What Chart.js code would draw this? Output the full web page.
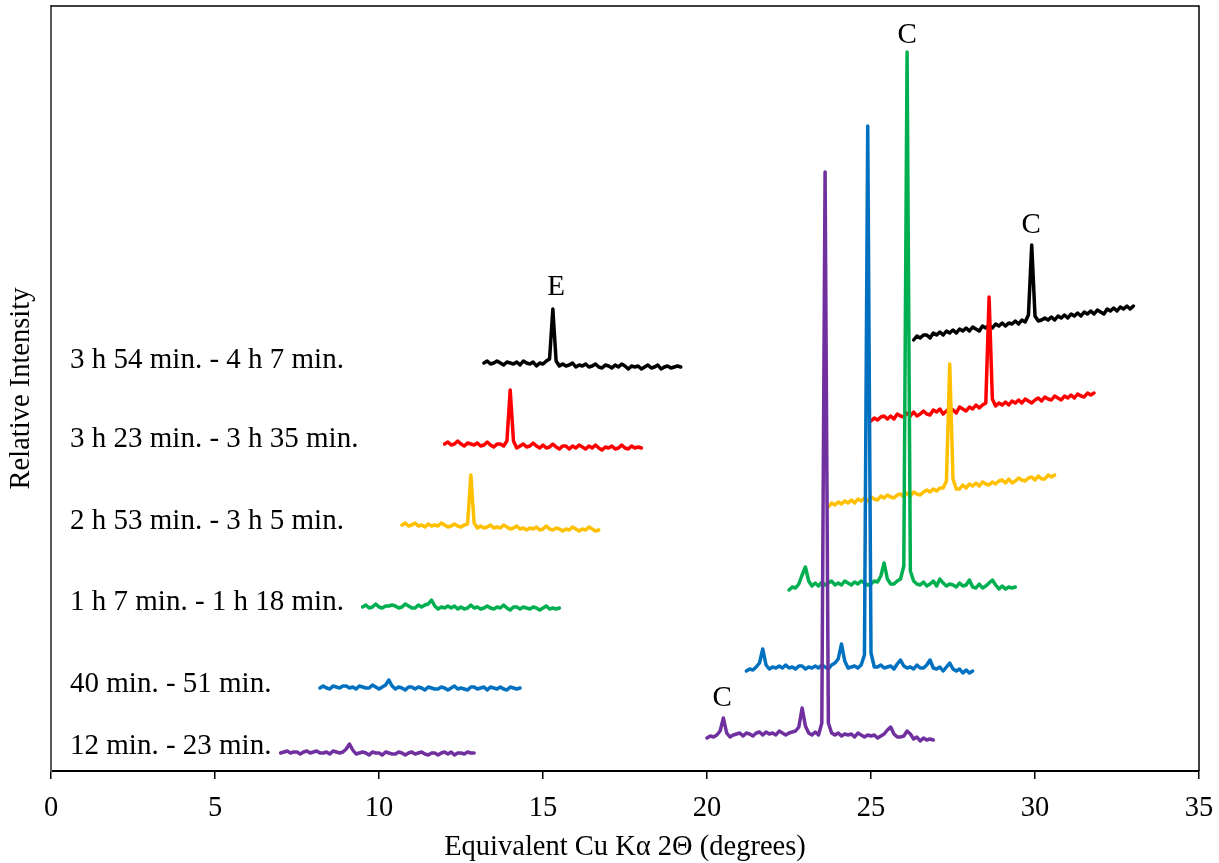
<!DOCTYPE html>
<html>
<head>
<meta charset="utf-8">
<script src="https://cdn.jsdelivr.net/npm/chart.js"></script>
<style>
  body { margin: 0; background: #fff; }
  #wrap { width: 1219px; height: 863px; }
</style>
</head>
<body>
<div id="wrap"><canvas id="xrdChart"></canvas></div>
<script>
// scan step (degrees 2theta) and where each segment starts
const STEP = 0.1;
const lowStart  = [7.0, 8.2, 9.5, 10.7, 12.0, 13.2];
const highStart = [20.0, 21.2, 22.5, 23.7, 25.0, 26.3];

const sampleLabels = ['12 min. - 23 min.', '40 min. - 51 min.', '1 h 7 min. - 1 h 18 min.',
                      '2 h 53 min. - 3 h 5 min.', '3 h 23 min. - 3 h 35 min.', '3 h 54 min. - 4 h 7 min.'];
const labelX = 0.58;
const labelY = [25, 87, 169, 250, 332, 411];

const peakLetters = ['C', 'C', 'E', 'C'];
const peakX = [26.1, 29.88, 15.4, 20.46];
const peakY = [736, 546, 484, 73];

// relative intensity, one value every STEP, 10 per row
const purpleLow = [
  18,19,20,18,19,19,17,19,20,18,
  19,20,18,18,19,17,20,19,18,19,
  22,27,21,17,18,19,18,16,19,18,
  18,16,19,18,17,17,19,18,16,18,
  19,17,18,19,17,16,18,18,16,18,
  19,17,19,16,18,18,17,19,18,18
];
const purpleHigh = [
  33,35,34,36,40,53,38,34,36,37,
  38,35,38,37,35,38,39,36,39,37,
  38,36,40,38,36,38,39,40,44,63,
  45,38,36,39,36,48,599,48,38,36,
  38,35,37,36,37,34,38,36,34,36,
  35,36,33,35,37,41,44,37,34,34,
  35,40,37,32,34,30,33,31,32,31
];
const blueLow = [
  83,85,83,82,85,84,83,85,85,83,
  84,82,85,84,83,83,86,84,82,84,
  86,91,85,82,84,83,81,84,84,82,
  84,83,81,84,83,82,82,84,83,81,
  83,85,82,83,82,81,84,84,82,83,
  84,81,84,83,82,84,82,81,84,83,
  82,83
];
const blueHigh = [
  100,102,101,104,108,122,106,102,104,103,
  105,103,106,103,104,102,105,105,102,104,
  103,105,103,106,104,102,106,108,112,127,
  110,103,104,105,103,106,116,645,118,104,
  104,106,103,104,105,102,107,111,105,103,
  104,102,106,103,103,106,111,103,102,104,
  100,104,108,102,100,102,98,101,98,100
];
const greenLow = [
  164,166,163,164,167,164,163,165,165,166,
  165,163,164,167,165,163,163,166,164,166,
  167,171,165,162,164,163,165,163,165,162,
  164,162,163,166,163,164,162,163,165,163,
  162,164,163,166,163,161,164,164,162,164,
  163,162,164,163,161,163,165,162,163,162,
  163
];
const greenHigh = [
  181,184,183,187,196,204,190,185,188,185,
  189,186,188,190,186,188,186,190,188,186,
  189,187,190,188,186,187,190,189,195,208,
  192,187,187,190,192,205,719,200,190,187,
  186,189,185,187,190,185,192,188,185,187,
  186,184,188,185,186,191,184,183,187,183,
  185,188,191,186,182,185,182,184,183,184
];
const yellowLow = [
  246,248,245,246,248,245,246,244,247,245,
  246,245,248,246,244,245,247,245,244,246,
  247,296,248,243,245,243,244,246,243,244,
  243,246,244,242,243,245,242,243,241,243,
  242,244,241,242,245,242,241,243,242,240,
  242,241,244,242,240,242,241,244,242,240,
  241
];
const yellowHigh = [
  264,268,266,269,267,270,268,271,268,272,
  270,273,270,274,272,271,275,273,276,274,
  273,276,277,274,278,275,279,277,276,279,
  281,279,282,280,283,283,290,407,292,282,
  282,286,283,287,285,288,285,289,287,286,
  289,287,290,291,288,292,288,290,293,291,
  290,293,294,291,295,292,292,296,294,296
];
const redLow = [
  327,329,326,327,330,327,325,328,327,326,
  328,325,326,329,326,324,327,327,325,330,
  381,330,323,325,327,324,325,328,325,323,
  326,323,324,327,324,322,325,325,322,325,
  323,326,324,322,325,323,326,323,321,324,
  323,325,322,323,326,323,322,325,323,324,
  323
];
const redHigh = [
  350,353,351,354,355,352,355,352,357,355,
  354,358,355,359,355,357,360,357,356,361,
  359,362,357,360,363,361,358,364,362,360,
  364,362,366,363,366,368,474,372,365,368,
  366,369,366,370,368,371,368,372,370,368,
  371,373,370,374,372,371,375,373,371,375,
  373,376,373,377,375,374,378,376,378
];
const blackLow = [
  408,410,407,408,410,408,406,409,408,407,
  409,406,410,408,407,409,405,408,407,410,
  412,462,410,405,407,405,406,408,404,406,
  405,407,404,405,407,404,403,406,405,403,
  406,404,407,405,402,405,404,405,402,404,
  406,403,404,406,402,404,405,403,404,405,
  404
];
const blackHigh = [
  431,435,433,436,436,433,438,436,439,436,
  440,438,441,438,442,440,443,440,444,442,
  440,445,443,446,443,447,445,448,445,448,
  447,450,447,451,449,456,526,455,450,451,
  453,451,454,451,455,453,456,453,457,455,
  458,455,459,457,460,457,461,459,457,462,
  460,463,460,464,462,465,462,465
];

const lowSeries  = [purpleLow, blueLow, greenLow, yellowLow, redLow, blackLow];
const highSeries = [purpleHigh, blueHigh, greenHigh, yellowHigh, redHigh, blackHigh];
const colors = ['#7030A0', '#0070C0', '#00B050', '#FFC000', '#FF0000', '#000000'];

const FONT = '"Liberation Serif", "Times New Roman", serif';

function toPoints(start, values) {
  return values.map((v, i) => ({ x: +(start + i * STEP).toFixed(1), y: v }));
}

const datasets = [];
for (let s = 0; s < colors.length; s++) {
  [toPoints(lowStart[s], lowSeries[s]), toPoints(highStart[s], highSeries[s])].forEach(pts => {
    datasets.push({
      data: pts,
      borderColor: colors[s],
      borderWidth: 3.5,
      borderJoinStyle: 'round',
      borderCapStyle: 'round',
      pointRadius: 0,
      tension: 0,
      fill: false
    });
  });
}

// text labels, peak letters and the top/right frame
const xrdText = {
  id: 'xrdText',
  afterDraw(chart) {
    const { ctx, chartArea: a, scales: { x, y } } = chart;
    ctx.save();
    ctx.strokeStyle = '#000';
    ctx.lineWidth = 1.5;
    ctx.beginPath();
    ctx.moveTo(a.left, a.top);
    ctx.lineTo(a.right, a.top);
    ctx.lineTo(a.right, a.bottom);
    ctx.stroke();

    ctx.font = '29px ' + FONT;
    ctx.fillStyle = '#000';
    ctx.textBaseline = 'middle';
    ctx.textAlign = 'left';
    sampleLabels.forEach((t, i) => {
      ctx.fillText(t, x.getPixelForValue(labelX), y.getPixelForValue(labelY[i]));
    });
    ctx.textAlign = 'center';
    peakLetters.forEach((t, i) => {
      ctx.fillText(t, x.getPixelForValue(peakX[i]), y.getPixelForValue(peakY[i]));
    });
    ctx.restore();
  }
};

new Chart(document.getElementById('xrdChart'), {
  type: 'line',
  data: { datasets: datasets },
  options: {
    responsive: true,
    maintainAspectRatio: false,
    animation: false,
    layout: { padding: { top: 6, right: 20, left: 0, bottom: 0 } },
    plugins: { legend: { display: false }, tooltip: { enabled: false } },
    scales: {
      x: {
        type: 'linear',
        min: 0,
        max: 35,
        afterFit: s => { s.height = 92; s.paddingRight = 0; s.paddingLeft = 0; },
        ticks: { stepSize: 5, color: '#000', padding: 12, font: { family: FONT, size: 28.5 } },
        grid: { drawOnChartArea: false, drawTicks: true, tickLength: 8, color: '#000', lineWidth: 1.5 },
        border: { color: '#000', width: 2 },
        title: { display: true, text: 'Equivalent Cu Kα 2Θ (degrees)', color: '#000',
                 font: { family: FONT, size: 28.5 }, padding: { top: 0, bottom: -2 } }
      },
      y: {
        min: 0,
        max: 765,
        afterFit: s => { s.width = 51; },
        ticks: { display: false },
        grid: { display: false },
        border: { color: '#595959', width: 2 },
        title: { display: true, text: 'Relative Intensity', color: '#000',
                 font: { family: FONT, size: 28.5 }, padding: { top: 4, bottom: 0 } }
      }
    }
  },
  plugins: [xrdText]
});
</script>
</body>
</html>
